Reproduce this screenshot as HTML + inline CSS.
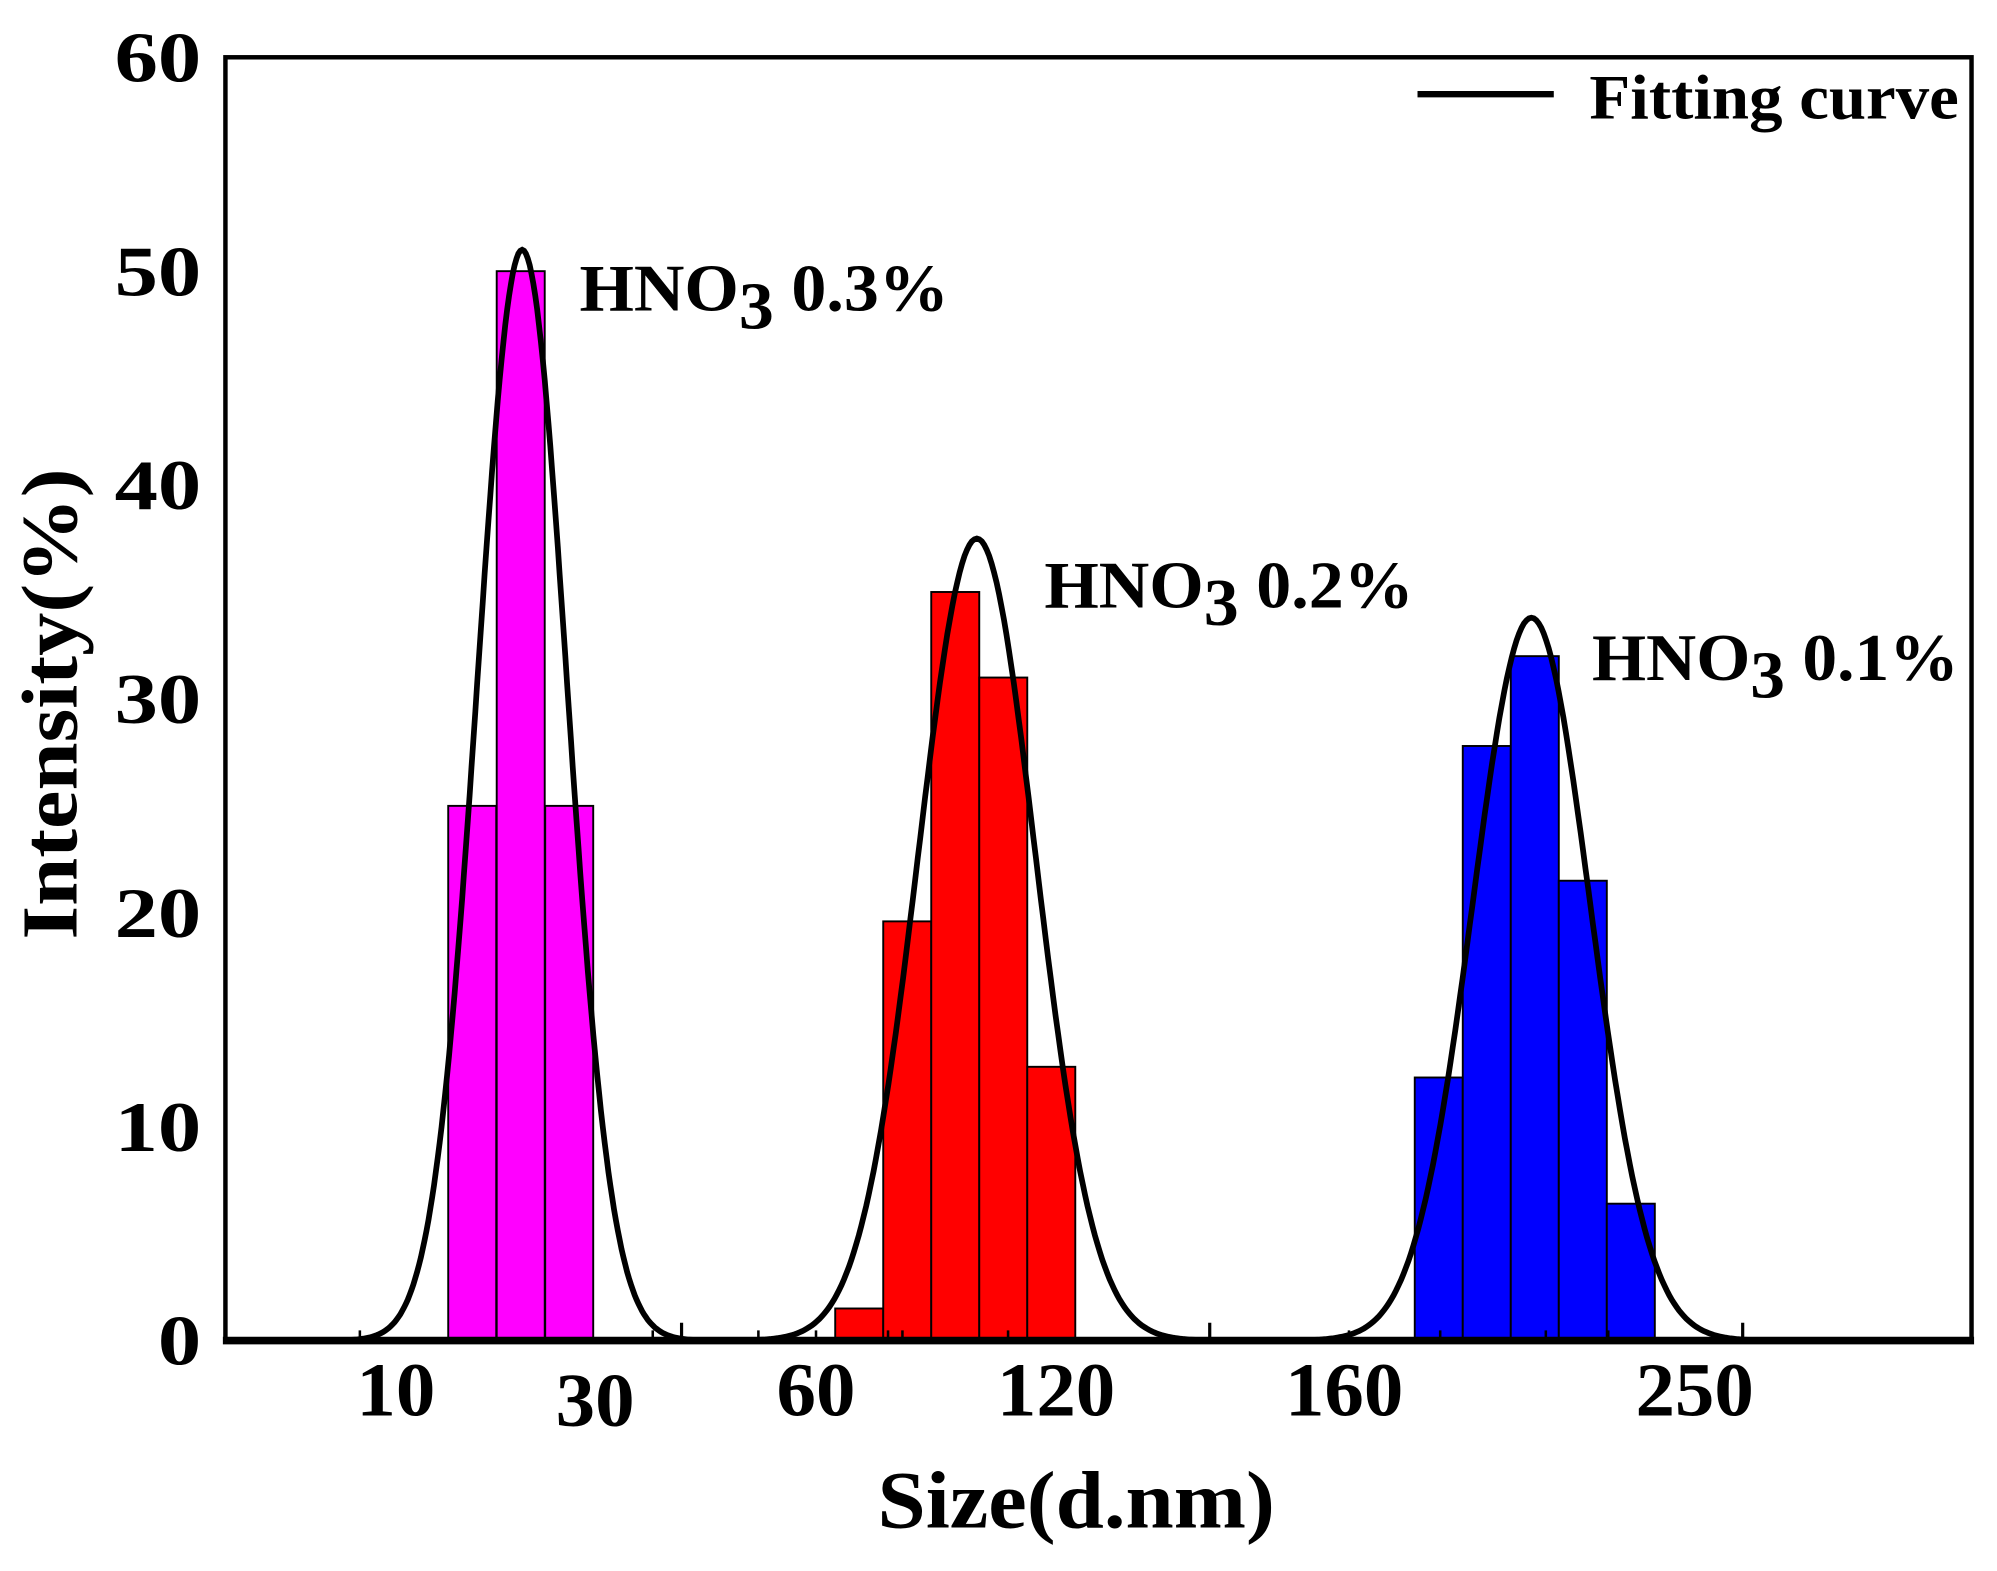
<!DOCTYPE html>
<html><head><meta charset="utf-8">
<style>
html,body{margin:0;padding:0;background:#fff;}
svg{display:block;}
text{font-family:"Liberation Serif","Times New Roman",serif;font-weight:bold;fill:#000;}
</style></head>
<body>
<svg id="chart" width="1997" height="1571" viewBox="0 0 1568 1234" preserveAspectRatio="none" xmlns="http://www.w3.org/2000/svg">
<g id="bars"></g>
<g id="curves"></g>
<g id="axes"></g>
<text x="455" y="244" font-size="52" textLength="290" lengthAdjust="spacingAndGlyphs">HNO<tspan dy="14">3</tspan><tspan dy="-14"> 0.3%</tspan></text>
<text x="820" y="477" font-size="52" textLength="290" lengthAdjust="spacingAndGlyphs">HNO<tspan dy="14">3</tspan><tspan dy="-14"> 0.2%</tspan></text>
<text x="1250" y="534" font-size="52" textLength="288" lengthAdjust="spacingAndGlyphs">HNO<tspan dy="14">3</tspan><tspan dy="-14"> 0.1%</tspan></text>
<line x1="1113" y1="74" x2="1220" y2="74" stroke="#000" stroke-width="5"/>
<text x="1248" y="93" font-size="50" textLength="290" lengthAdjust="spacingAndGlyphs">Fitting curve</text>
<text transform="translate(60,553) rotate(-90)" text-anchor="middle" font-size="62" textLength="370" lengthAdjust="spacingAndGlyphs">Intensity(%)</text>
<text x="845" y="1200" text-anchor="middle" font-size="64" textLength="312" lengthAdjust="spacingAndGlyphs">Size(d.nm)</text>
</svg>
<script>
// y axis
const yTicks = [0,10,20,30,40,50,60];
// x tick labels (categorical positions in bin units)
const xTickLabels = ["10","30","60","120","160","250"];
const xTickPos = [3.55, 7.7, 12.3, 17.3, 23.3, 30.6];
const xTickDy = [0, 8, 0, 0, 0, 0];
const xMinorTicks = [2.8, 8.9, 9.5, 11.1, 12.3, 13.8, 14.1, 16.3, 20.5, 23.4, 25.3, 27.5, 28.8, 31.6];
const xMajorTicks = [9.5, 20.5, 31.6];
// bar data: left bin edge and intensity
const magentaBins = [4.64, 5.65, 6.66];
const magentaVals = [25, 50, 25];
const redBins = [12.7, 13.7, 14.7, 15.7, 16.7];
const redVals = [1.5, 19.6, 35, 31, 12.8];
const blueBins = [24.77, 25.77, 26.77, 27.77, 28.77];
const blueVals = [12.3, 27.8, 32, 21.5, 6.4];
// fitted gaussian parameters
const curveAmp = [51, 37.5, 33.8];
const curveCenter = [6.18, 15.65, 27.2];
const curveSigma = [0.93, 1.22, 1.22];

const L=177, R=1548, T=45, B=1053, UNIT=37.7;
const xs = v => L + v*UNIT;
const ys = v => B - (v/60)*(B-T);
const NS="http://www.w3.org/2000/svg";
function mk(tag, attrs, parent){const e=document.createElementNS(NS,tag);for(const k in attrs)e.setAttribute(k,attrs[k]);parent.appendChild(e);return e;}

const barsG=document.getElementById('bars');
function drawBars(bins, vals, color, name){
  bins.forEach((b,i)=>{
    const r=mk('rect',{x:xs(b),y:ys(vals[i]),width:UNIT,height:B-ys(vals[i]),fill:color,stroke:'#000','stroke-width':1.5},barsG);
    
    
  });
}
drawBars(magentaBins, magentaVals, '#ff00ff', 'magenta');
drawBars(redBins, redVals, '#ff0000', 'red');
drawBars(blueBins, blueVals, '#0000ff', 'blue');

const curvesG=document.getElementById('curves');
const curveNames=['curve-0.3','curve-0.2','curve-0.1'];
curveAmp.forEach((a,i)=>{
  const c=curveCenter[i], s=curveSigma[i];
  let d='';
  for(let k=0;k<=200;k++){
    const v=c-4.2*s + k*(8.4*s/200);
    const y=a*Math.exp(-0.5*((v-c)/s)**2);
    d+=(k?'L':'M')+xs(v).toFixed(1)+','+ys(y).toFixed(1);
  }
  const p=mk('path',{d:d,fill:'none',stroke:'#000','stroke-width':4.5},curvesG);
  
  
});

const ax=document.getElementById('axes');
const frame=mk('rect',{x:L,y:T,width:R-L,height:B-T,fill:'none',stroke:'#000','stroke-width':3.5},ax);


const xl=mk('line',{x1:L-2,y1:B,x2:R+2,y2:B,stroke:'#000','stroke-width':6},ax);


yTicks.forEach(t=>{
  const tx=mk('text',{x:158,y:ys(t)+19,'text-anchor':'end','font-size':56,textLength:String(t).length*34,lengthAdjust:'spacingAndGlyphs'},ax);
  tx.textContent=t;
  
  
});
xTickLabels.forEach((t,i)=>{
  const tx=mk('text',{x:xs(xTickPos[i]),y:1112+xTickDy[i],'text-anchor':'middle','font-size':60,textLength:t.length*31,lengthAdjust:'spacingAndGlyphs'},ax);
  tx.textContent=t;
  
  
});
xMinorTicks.forEach((t,i)=>{
  const ln=mk('line',{x1:xs(t),y1:B,x2:xs(t),y2:B-8,stroke:'#000','stroke-width':2},ax);
  
  
});
xMajorTicks.forEach((t,i)=>{
  const ln=mk('line',{x1:xs(t),y1:B,x2:xs(t),y2:B-14,stroke:'#000','stroke-width':2.5},ax);
  
  
});
</script>
</body></html>
